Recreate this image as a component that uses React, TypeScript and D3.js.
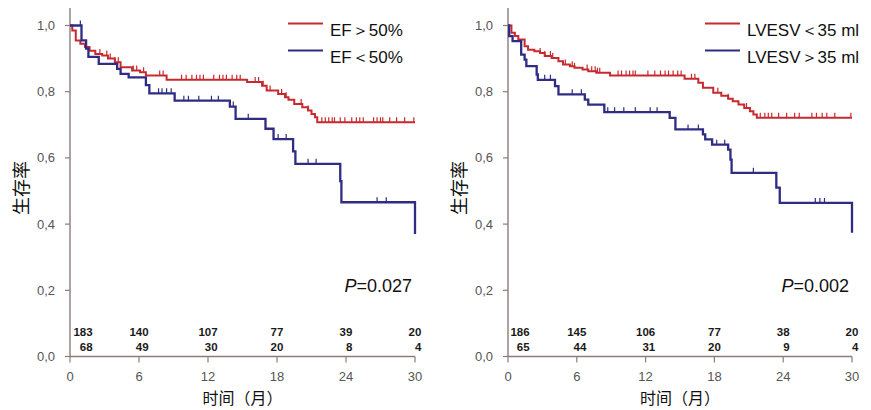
import React from "react";
import * as d3 from "d3";

// ---------- DATA ----------
const timeTicks = [0, 6, 12, 18, 24, 30];
const survTicks = [0, 0.2, 0.4, 0.6, 0.8, 1.0];
const survTickLabels = ["0,0", "0,2", "0,4", "0,6", "0,8", "1,0"];

// Left panel: EF
const efLegend = ["EF＞50%", "EF＜50%"];
const efHighSteps: [number, number][] = [
  [0, 1], [0.2, 0.985], [0.5, 0.955], [0.9, 0.945], [1.3, 0.935], [1.7, 0.924], [2.2, 0.914],
  [2.8, 0.909], [3.3, 0.9], [3.9, 0.889], [4.4, 0.874], [5.4, 0.864], [6.1, 0.859], [6.6, 0.849],
  [8.4, 0.836], [15.4, 0.829], [16.7, 0.818], [17.1, 0.804], [18.1, 0.793], [18.7, 0.783],
  [19.0, 0.776], [19.5, 0.763], [20.2, 0.753], [20.7, 0.743], [21.0, 0.733], [21.3, 0.723],
  [21.5, 0.708], [30, 0.708],
];
const efHighCensor = [
  2.6, 3.2, 3.5, 3.9, 4.2, 5.5, 5.8, 6.4, 7.8, 8.1, 9.7, 10.1, 10.6, 11.0, 11.3, 11.6, 12.5, 13.0,
  13.3, 13.6, 14.1, 14.5, 14.8, 16.1, 16.4, 16.8, 17.4, 18.4, 18.8, 20.1, 20.7, 21.9, 22.2, 22.5,
  22.8, 23.0, 23.5, 23.9, 24.5, 24.9, 25.2, 25.5, 26.4, 26.7, 27.0, 27.2, 27.8, 28.4, 29.1, 29.9,
];
const efLowSteps: [number, number][] = [
  [0, 1], [1.0, 0.955], [1.4, 0.93], [1.6, 0.905], [2.5, 0.884], [4.1, 0.869], [4.4, 0.854],
  [5.1, 0.843], [6.6, 0.82], [6.9, 0.795], [9.1, 0.773], [13.9, 0.755], [14.4, 0.718],
  [17.0, 0.688], [17.7, 0.657], [19.4, 0.62], [19.6, 0.582], [23.5, 0.53], [23.6, 0.466],
  [30, 0.37],
];
const efLowCensor = [0.9, 7.7, 8.0, 8.4, 8.8, 9.9, 10.3, 11.2, 12.3, 12.9, 14.2, 15.5, 18.1, 18.8, 20.7, 21.4, 26.7, 27.5];
const efRiskHigh = [183, 140, 107, 77, 39, 20];
const efRiskLow = [68, 49, 30, 20, 8, 4];
const efP = "0.027";

// Right panel: LVESV
const lvLegend = ["LVESV＜35 ml", "LVESV＞35 ml"];
const lvLowSteps: [number, number][] = [
  [0, 1], [0.3, 0.978], [0.6, 0.968], [0.9, 0.958], [1.45, 0.937], [1.75, 0.927], [2.3, 0.922],
  [2.8, 0.917], [3.2, 0.908], [3.8, 0.902], [4.4, 0.892], [4.8, 0.882], [5.4, 0.877], [5.8, 0.872],
  [6.5, 0.867], [7.0, 0.862], [7.7, 0.857], [8.9, 0.849], [15.4, 0.839], [16.6, 0.827],
  [17.0, 0.812], [17.9, 0.797], [18.6, 0.788], [19.2, 0.779], [19.6, 0.771], [20.1, 0.761],
  [20.6, 0.751], [21.1, 0.741], [21.4, 0.731], [21.7, 0.721], [30, 0.721],
];
const lvLowCensor = [
  2.8, 3.2, 3.7, 3.9, 5.0, 5.6, 5.8, 6.9, 7.3, 7.6, 7.8, 8.0, 9.6, 9.9, 10.3, 10.6, 10.9, 11.1,
  12.2, 12.8, 13.3, 13.7, 14.0, 14.4, 14.8, 15.1, 16.0, 16.3, 18.3, 19.2, 20.8, 22.0, 22.4, 22.7,
  23.0, 23.6, 24.3, 25.0, 25.4, 26.5, 26.9, 27.4, 27.8, 28.5, 29.9,
];
const lvHighSteps: [number, number][] = [
  [0, 1], [0.1, 0.968], [0.4, 0.953], [1.15, 0.912], [1.45, 0.897], [1.6, 0.877], [2.5, 0.852],
  [2.6, 0.836], [4.1, 0.817], [4.4, 0.792], [6.7, 0.776], [7.0, 0.761], [8.4, 0.738],
  [14.1, 0.721], [14.6, 0.686], [17.0, 0.671], [17.2, 0.656], [17.8, 0.64], [19.2, 0.625],
  [19.4, 0.595], [19.5, 0.555], [23.4, 0.51], [23.7, 0.464], [30, 0.374],
];
const lvHighCensor = [3.2, 3.7, 5.6, 6.4, 8.7, 9.3, 10.1, 11.1, 12.4, 13.0, 15.7, 16.6, 18.2, 18.9, 21.4, 26.8, 27.2, 27.6];
const lvRiskLow = [186, 145, 106, 77, 38, 20];
const lvRiskHigh = [65, 44, 31, 20, 9, 4];
const lvP = "0.002";

// ---------- STYLE ----------
const RED = "#c62a2f";
const BLUE = "#2f2c83";
const AXIS = "#8c7c78";
const FONT = "Liberation Sans, Arial, sans-serif";
const CJK = "Noto Sans CJK SC, sans-serif";

type PanelProps = {
  x0: number;
  x1: number;
  legend: string[];
  legendX: number;
  redSteps: [number, number][];
  redCensor: number[];
  blueSteps: [number, number][];
  blueCensor: number[];
  risk1: number[];
  risk2: number[];
  p: string;
  pRight: number;
  firstOffset: number;
};

function valueAt(steps: [number, number][], t: number) {
  let v = steps[0][1];
  for (const [tt, s] of steps) {
    if (tt <= t) v = s;
  }
  return v;
}

function Panel(props: PanelProps) {
  const { x0, x1, legend, legendX, redSteps, redCensor, blueSteps, blueCensor, risk1, risk2, p, pRight, firstOffset } = props;
  const x = d3.scaleLinear().domain([0, 30]).range([x0, x1]);
  const y = d3.scaleLinear().domain([0, 1]).range([356.5, 25.5]);
  const line = d3
    .line<[number, number]>()
    .x((d) => x(d[0]))
    .y((d) => y(d[1]))
    .curve(d3.curveStepAfter);
  const censorPath = (steps: [number, number][], times: number[]) =>
    times
      .map((t) => {
        const cx = x(t);
        const cy = y(valueAt(steps, t));
        return `M${cx},${cy}V${cy - 5}`;
      })
      .join("");

  const centerX = (x0 + x1) / 2;
  return (
    <g>
      {/* axes */}
      <line x1={x0} x2={x0} y1={8} y2={y(0)} stroke={AXIS} strokeWidth={1.4} />
      <line x1={x0} x2={x1} y1={y(0)} y2={y(0)} stroke={AXIS} strokeWidth={1.4} />
      {survTicks.map((s, i) => (
        <g key={"ys" + i}>
          <line x1={x0 - 5} x2={x0} y1={y(s)} y2={y(s)} stroke={AXIS} strokeWidth={1.2} />
          <text x={x0 - 15} y={y(s)} dy="0.35em" textAnchor="end" fontFamily={FONT} fontSize={13} fill="#555">
            {survTickLabels[i]}
          </text>
        </g>
      ))}
      {timeTicks.map((t, i) => (
        <g key={"xt" + i}>
          <line x1={x(t)} x2={x(t)} y1={y(0)} y2={y(0) + 6} stroke={AXIS} strokeWidth={1.2} />
          <text x={x(t)} y={381} textAnchor="middle" fontFamily={FONT} fontSize={13} fill="#555">
            {t}
          </text>
        </g>
      ))}
      {/* curves */}
      <path d={line(redSteps) || ""} fill="none" stroke={RED} strokeWidth={2} />
      <path d={censorPath(redSteps, redCensor)} fill="none" stroke={RED} strokeWidth={1.2} />
      <path d={line(blueSteps) || ""} fill="none" stroke={BLUE} strokeWidth={2.3} />
      <path d={censorPath(blueSteps, blueCensor)} fill="none" stroke={BLUE} strokeWidth={1.2} />
      {/* legend */}
      {legend.map((l, i) => (
        <g key={"lg" + i}>
          <line x1={legendX} x2={legendX + 35} y1={23.5 + i * 27} y2={23.5 + i * 27} stroke={i === 0 ? RED : BLUE} strokeWidth={2.2} />
          <text x={legendX + 42} y={36 + i * 27} fontFamily={FONT} fontSize={17} fill="#111">
            {l}
          </text>
        </g>
      ))}
      {/* p value */}
      <text x={pRight} y={292} textAnchor="end" fontFamily={FONT} fontSize={18} fill="#111">
        <tspan fontStyle="italic">P</tspan>={p}
      </text>
      {/* risk table */}
      {timeTicks.map((t, i) => {
        const cx = x(t) + (i === 0 ? firstOffset : 0);
        const right = cx + String(risk1[i]).length * 3.2;
        return (
          <g key={"rk" + i}>
            <text x={right} y={336} textAnchor="end" fontFamily={FONT} fontSize={11.5} fontWeight="bold" fill="#1a1a1a">
              {risk1[i]}
            </text>
            <text x={right} y={351} textAnchor="end" fontFamily={FONT} fontSize={11.5} fontWeight="bold" fill="#1a1a1a">
              {risk2[i]}
            </text>
          </g>
        );
      })}
      {/* axis titles */}
      <text x={centerX} y={404} textAnchor="middle" fontFamily={CJK} fontSize={16} fill="#111">
        时间（月）
      </text>
      <text
        transform={`translate(${x0 - 48},${188}) rotate(-90)`}
        textAnchor="middle"
        dy="0.35em"
        fontFamily={CJK}
        fontSize={18}
        fill="#111"
      >
        生存率
      </text>
    </g>
  );
}

export default function App() {
  return (
    <svg
      width={871}
      height={410}
      viewBox="0 0 871 410"
      style={{ position: "absolute", left: 0, top: 0, background: "#fff" }}
    >
      <rect width={871} height={410} fill="#fff" />
      <Panel
        x0={70}
        x1={415}
        legend={efLegend}
        legendX={288}
        redSteps={efHighSteps}
        redCensor={efHighCensor}
        blueSteps={efLowSteps}
        blueCensor={efLowCensor}
        risk1={efRiskHigh}
        risk2={efRiskLow}
        p={efP}
        pRight={412}
        firstOffset={13}
      />
      <Panel
        x0={508}
        x1={852}
        legend={lvLegend}
        legendX={705}
        redSteps={lvLowSteps}
        redCensor={lvLowCensor}
        blueSteps={lvHighSteps}
        blueCensor={lvHighCensor}
        risk1={lvRiskLow}
        risk2={lvRiskHigh}
        p={lvP}
        pRight={849}
        firstOffset={12}
      />
    </svg>
  );
}
